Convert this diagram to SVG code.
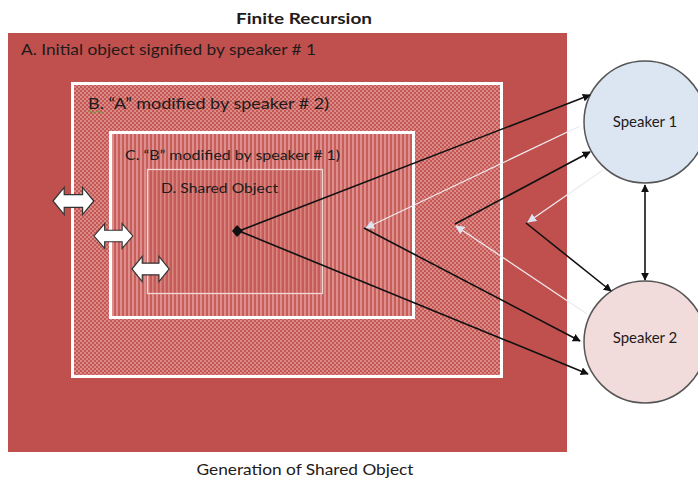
<svg xmlns="http://www.w3.org/2000/svg" width="698" height="479" viewBox="0 0 698 479">
<style>
.t{font-family:Lato,"Liberation Sans",Arial,sans-serif;fill:#231a1a}
.dk{stroke:#111;stroke-width:1.6;fill:none}
.lt{stroke:#eeeaf0;stroke-width:1.3;fill:none}
.blk{fill:#fff;stroke:#333;stroke-width:1.2}
</style>
<defs>
<pattern id="chk" width="4" height="4" patternUnits="userSpaceOnUse">
<rect width="4" height="4" fill="#c45753"/>
<rect width="2" height="2" fill="#da8a87"/>
<rect x="2" y="2" width="2" height="2" fill="#da8a87"/>
</pattern>
<pattern id="str" width="4" height="4" patternUnits="userSpaceOnUse">
<rect width="4" height="4" fill="#c75e5a"/>
<rect width="2" height="4" fill="#dc8f8c"/>
</pattern>
<pattern id="str2" width="4" height="4" patternUnits="userSpaceOnUse">
<rect width="4" height="4" fill="#c65b57"/>
<rect width="1.6" height="4" fill="#d88481"/>
</pattern>
<marker id="ah" viewBox="0 0 10 10" refX="9" refY="5" markerWidth="8" markerHeight="8" markerUnits="userSpaceOnUse" orient="auto-start-reverse">
<path d="M0,0 L10,5 L0,10 Z" fill="#111"/>
</marker>
<marker id="ahl" viewBox="0 0 10 10" refX="9" refY="5" markerWidth="9" markerHeight="9" markerUnits="userSpaceOnUse" orient="auto">
<path d="M0,0 L10,5 L0,10 Z" fill="#dde3f0"/>
</marker>
<path id="dbl" d="M0,0 L11,-13 L11,-6 L29,-6 L29,-13 L40,0 L29,13 L29,6 L11,6 L11,13 Z"/>
</defs>
<rect width="698" height="479" fill="#fff"/>
<text class="t" x="304" y="24" font-size="16" font-weight="bold" text-anchor="middle" fill="#111" textLength="136" lengthAdjust="spacingAndGlyphs">Finite Recursion</text>

<g id="nodeA">
<rect x="8" y="33" width="559" height="419" fill="#c0504d"/>
<text class="t" x="21" y="55" font-size="15" textLength="295" lengthAdjust="spacingAndGlyphs">A. Initial object signified by speaker # 1</text>
</g>
<g id="nodeB">
<rect x="72.5" y="83.5" width="429" height="293" fill="url(#chk)" stroke="#fff" stroke-width="3"/>
<text class="t" x="88" y="109" font-size="15" textLength="241" lengthAdjust="spacingAndGlyphs">B.  “A” modified by speaker # 2)</text>
<path d="M88,112 q2,-2 4,0 q2,2 4,0 q2,-2 4,0 q2,2 4,0" stroke="#7a9a3a" stroke-width="1" fill="none"/>
</g>
<g id="nodeC">
<rect x="110.5" y="132.5" width="303" height="185" fill="url(#str)" stroke="#fff" stroke-width="3"/>
<text class="t" x="125" y="160" font-size="14" textLength="215" lengthAdjust="spacingAndGlyphs">C. “B” modified by speaker # 1)</text>
</g>
<g id="nodeD">
<rect x="147.5" y="169.5" width="175" height="124" fill="url(#str2)" stroke="#f4d8d6" stroke-width="1.3"/>
<text class="t" x="161" y="193" font-size="13.5" textLength="117" lengthAdjust="spacingAndGlyphs">D.  Shared Object</text>
</g>
<g id="blockArrows">
<use href="#dbl" class="blk" transform="translate(53,201) scale(1.02,1.05)"/>
<use href="#dbl" class="blk" transform="translate(94,236) scale(0.97,0.95)"/>
<use href="#dbl" class="blk" transform="translate(132,269) scale(0.93,0.97)"/>
</g>
<g id="speaker1">
<circle cx="645" cy="122" r="61" fill="#dce6f2" stroke="#555" stroke-width="1.5"/>
<text class="t" x="645" y="127" font-size="15" text-anchor="middle">Speaker 1</text>
</g>
<g id="speaker2">
<circle cx="645" cy="342" r="61" fill="#f2dcdb" stroke="#555" stroke-width="1.5"/>
<text class="t" x="645" y="343" font-size="15" text-anchor="middle">Speaker 2</text>
</g>
<g id="connectors">
<path d="M237,225 L243,231 L237,237 L232,231 Z" fill="#111"/>
<line class="dk" x1="239" y1="231" x2="590" y2="95" marker-end="url(#ah)"/>
<line class="dk" x1="239" y1="231" x2="588" y2="374" marker-end="url(#ah)"/>
<line class="lt" x1="580" y1="126" x2="366" y2="228" marker-end="url(#ahl)"/>
<line class="dk" x1="364" y1="228" x2="580" y2="341" marker-end="url(#ah)"/>
<line class="dk" x1="455" y1="224" x2="590" y2="152" marker-end="url(#ah)"/>
<line class="lt" x1="587" y1="314" x2="456" y2="226" marker-end="url(#ahl)"/>
<line class="lt" x1="603" y1="170" x2="528" y2="222" marker-end="url(#ahl)"/>
<line class="dk" x1="526" y1="223" x2="611" y2="291" marker-end="url(#ah)"/>
<line class="dk" x1="645" y1="185" x2="645" y2="280" marker-start="url(#ah)" marker-end="url(#ah)"/>
</g>
<text class="t" x="305" y="475" font-size="15" text-anchor="middle" textLength="217" lengthAdjust="spacingAndGlyphs">Generation of Shared Object</text>
</svg>
